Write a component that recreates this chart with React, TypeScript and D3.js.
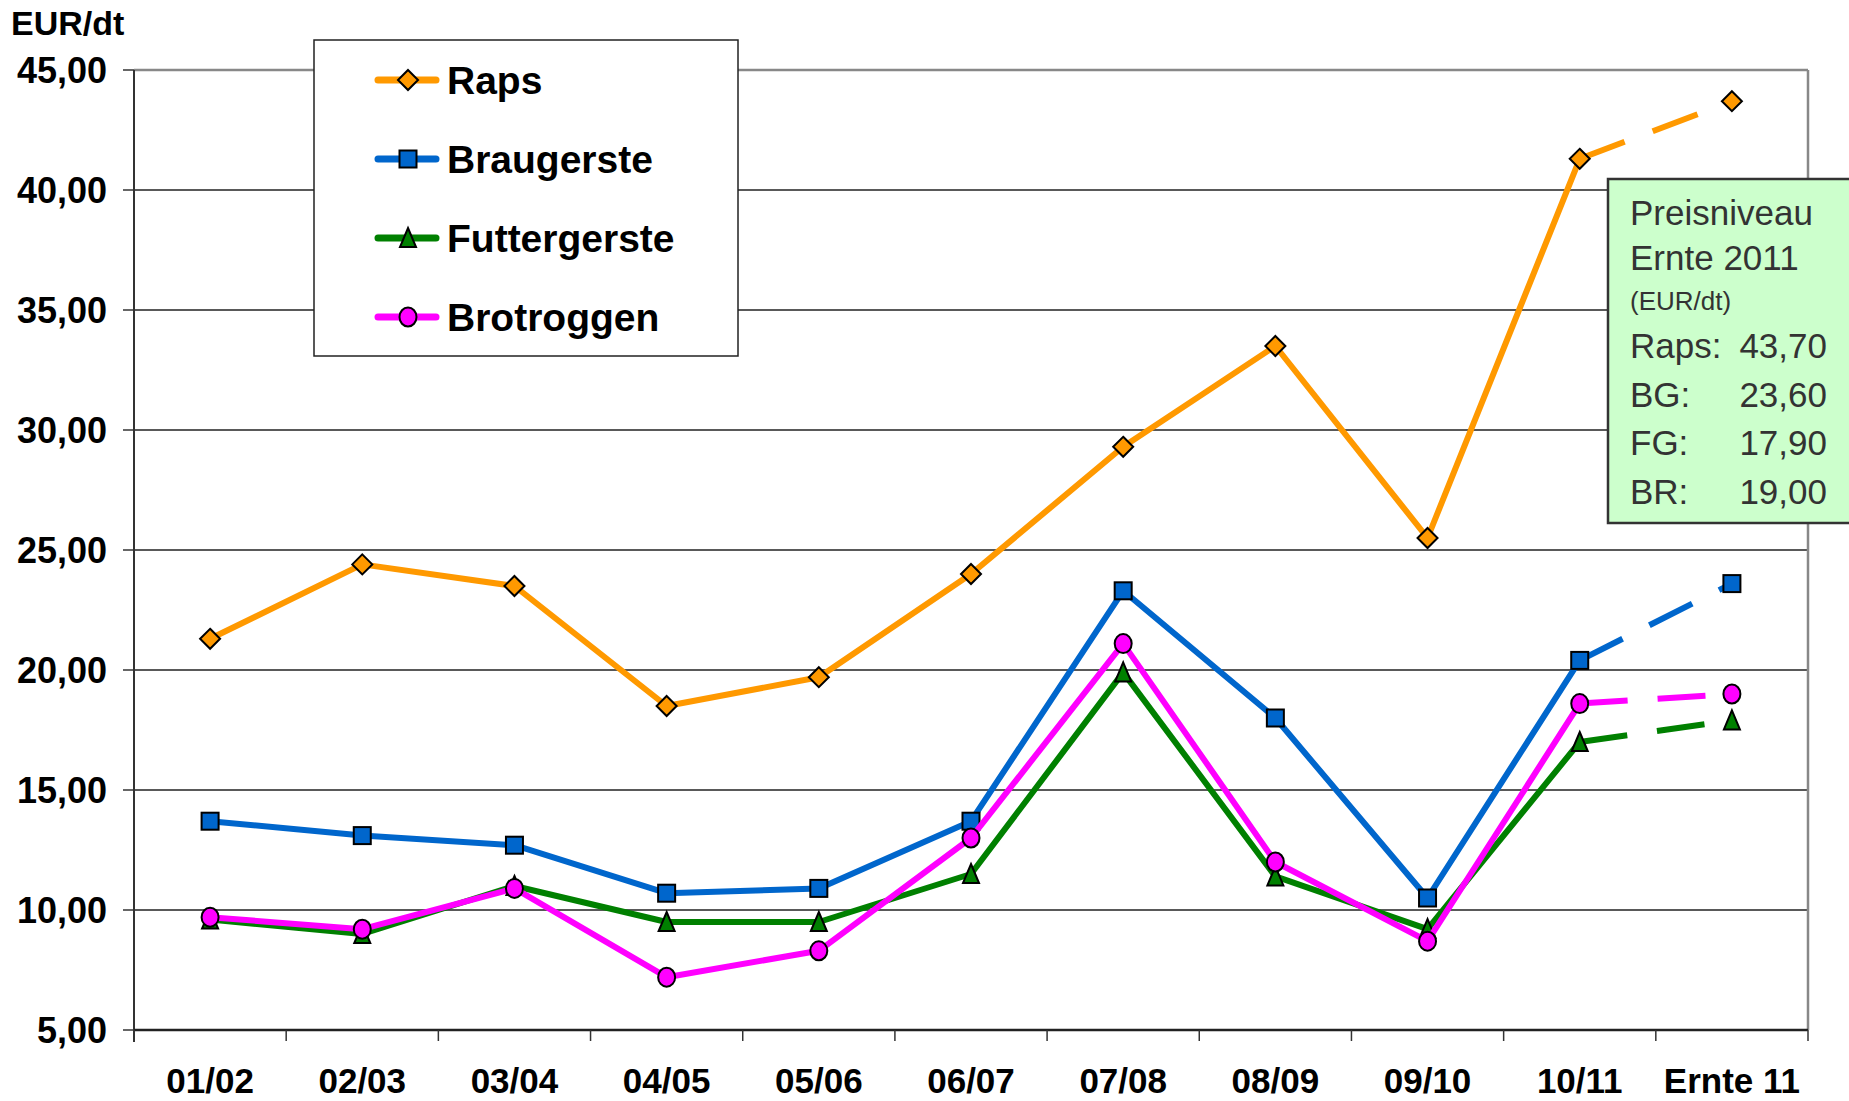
import * as d3 from 'd3';
import React from 'react';

// categories (crop years)
const seasons = ['01/02', '02/03', '03/04', '04/05', '05/06', '06/07', '07/08', '08/09', '09/10', '10/11', 'Ernte 11'];

// prices in EUR/dt
const raps = [21.3, 24.4, 23.5, 18.5, 19.7, 24.0, 29.3, 33.5, 25.5, 41.3, 43.7];
const braugerste = [13.7, 13.1, 12.7, 10.7, 10.9, 13.7, 23.3, 18.0, 10.5, 20.4, 23.6];
const futtergerste = [9.6, 9.0, 11.0, 9.5, 9.5, 11.5, 19.9, 11.4, 9.2, 17.0, 17.9];
const brotroggen = [9.7, 9.2, 10.9, 7.2, 8.3, 13.0, 21.1, 12.0, 8.7, 18.6, 19.0];

const yTicks = [5, 10, 15, 20, 25, 30, 35, 40, 45];

const boxLines = ['Preisniveau', 'Ernte 2011'];
const boxValues = [
  ['Raps:', '43,70'],
  ['BG:', '23,60'],
  ['FG:', '17,90'],
  ['BR:', '19,00'],
];

const series = [
  { name: 'Raps', values: raps, color: '#FF9900', marker: 'diamond' },
  { name: 'Braugerste', values: braugerste, color: '#0066CC', marker: 'square' },
  { name: 'Futtergerste', values: futtergerste, color: '#008000', marker: 'triangle' },
  { name: 'Brotroggen', values: brotroggen, color: '#FF00FF', marker: 'circle' },
];

const W = 1849, H = 1101;
const left = 134, right = 1808, top = 70, bottom = 1030;
const font = '"Liberation Sans", Arial, sans-serif';

const fmt = (v: number) => d3.format('.2f')(v).replace('.', ',');

function Marker({ type, x, y, color }: { type: string; x: number; y: number; color: string }) {
  const st = { fill: color, stroke: '#000', strokeWidth: 2 };
  if (type === 'diamond') {
    return <path d={`M${x},${y - 10}L${x + 10},${y}L${x},${y + 10}L${x - 10},${y}Z`} {...st} />;
  }
  if (type === 'square') {
    return <rect x={x - 8.5} y={y - 8.5} width={17} height={17} {...st} />;
  }
  if (type === 'triangle') {
    return <path d={`M${x},${y - 10}L${x + 8},${y + 9}L${x - 8},${y + 9}Z`} {...st} />;
  }
  return <ellipse cx={x} cy={y} rx={8.5} ry={9.5} {...st} />;
}

export default function App() {
  const x = d3.scaleBand().domain(seasons).range([left, right]);
  const y = d3.scaleLinear().domain([5, 45]).range([bottom, top]);
  const cx = (s: string) => (x(s) as number) + x.bandwidth() / 2;

  const line = d3.line<number>()
    .x((_, i) => cx(seasons[i]))
    .y((d) => y(d));

  const n = seasons.length;
  const boundaries = seasons.map((s) => x(s) as number).concat([right]);

  const legendY = [80, 159, 238, 317];

  return (
    <div style={{ position: 'absolute', left: 0, top: 0 }}>
      <svg width={W} height={H} style={{ display: 'block', background: '#fff' }}>
        {/* grid lines */}
        {yTicks.slice(1, -1).map((t) => (
          <line key={t} x1={left} x2={right} y1={y(t)} y2={y(t)} stroke="#222" strokeWidth={1.5} />
        ))}
        {/* plot border top/right */}
        <line x1={left} x2={right} y1={top} y2={top} stroke="#888" strokeWidth={2.5} />
        <line x1={right} x2={right} y1={top} y2={bottom} stroke="#888" strokeWidth={2.5} />

        {/* y axis */}
        <line x1={left} x2={left} y1={top} y2={bottom + 12} stroke="#333" strokeWidth={2} />
        {yTicks.map((t) => (
          <g key={t}>
            <line x1={left - 11} x2={left} y1={y(t)} y2={y(t)} stroke="#333" strokeWidth={1.5} />
            <text x={107} y={y(t)} dy="0.36em" textAnchor="end" fontFamily={font} fontWeight="bold" fontSize={36}>
              {fmt(t)}
            </text>
          </g>
        ))}
        <text x={11} y={35} fontFamily={font} fontWeight="bold" fontSize={34}>EUR/dt</text>

        {/* x axis */}
        <line x1={left} x2={right} y1={bottom} y2={bottom} stroke="#222" strokeWidth={2.5} />
        {boundaries.map((b, i) => (
          <line key={i} x1={b} x2={b} y1={bottom} y2={bottom + 11} stroke="#333" strokeWidth={1.5} />
        ))}
        {seasons.map((s) => (
          <text key={s} x={cx(s)} y={1093} textAnchor="middle" fontFamily={font} fontWeight="bold" fontSize={35}>
            {s}
          </text>
        ))}

        {/* series */}
        {series.map((sr) => (
          <g key={sr.name}>
            <path d={line(sr.values.slice(0, n - 1)) || ''} fill="none" stroke={sr.color} strokeWidth={6} strokeLinejoin="round" />
            <path
              d={d3.line<number>().x((_, i) => cx(seasons[n - 2 + i])).y((d) => y(d))(sr.values.slice(n - 2)) || ''}
              fill="none"
              stroke={sr.color}
              strokeWidth={6}
              strokeDasharray="48 30"
            />
            {sr.values.map((v, i) => (
              <Marker key={i} type={sr.marker} x={cx(seasons[i])} y={y(v)} color={sr.color} />
            ))}
          </g>
        ))}

        {/* legend */}
        <rect x={314} y={40} width={424} height={316} fill="#fff" stroke="#222" strokeWidth={1.5} />
        {series.map((sr, i) => (
          <g key={sr.name}>
            <line x1={378} x2={436} y1={legendY[i]} y2={legendY[i]} stroke={sr.color} strokeWidth={7} strokeLinecap="round" />
            <Marker type={sr.marker} x={408} y={legendY[i]} color={sr.color} />
            <text x={447} y={legendY[i]} dy="0.36em" fontFamily={font} fontWeight="bold" fontSize={39}>
              {sr.name}
            </text>
          </g>
        ))}

        {/* price box */}
        <rect x={1608} y={179} width={260} height={344} fill="#CCFFCC" stroke="#333" strokeWidth={2.5} />
        {boxLines.map((t, i) => (
          <text key={t} x={1630} y={225 + i * 45} fontFamily={font} fontSize={35} fill="#333">{t}</text>
        ))}
        <text x={1630} y={310} fontFamily={font} fontSize={26} fill="#333">(EUR/dt)</text>
        {boxValues.map(([k, v], i) => (
          <g key={k}>
            <text x={1630} y={358 + i * 48.5} fontFamily={font} fontSize={35} fill="#333">{k}</text>
            <text x={1827} y={358 + i * 48.5} textAnchor="end" fontFamily={font} fontSize={35} fill="#333">{v}</text>
          </g>
        ))}
      </svg>
    </div>
  );
}
